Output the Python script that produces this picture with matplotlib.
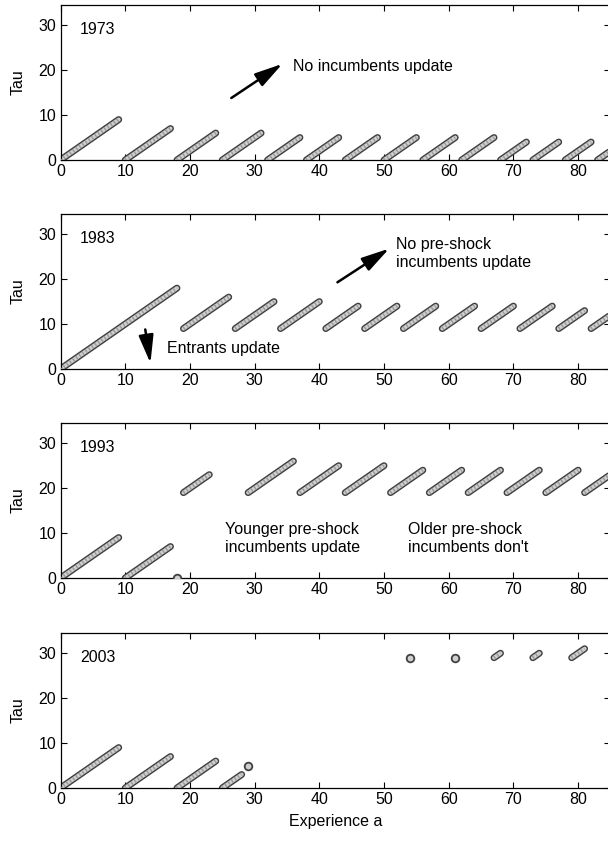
"""Four-panel diagram of tau against experience for several years."""

import matplotlib
matplotlib.use('Agg')
import matplotlib.pyplot as plt

# segments as (a_start, tau_start, a_end, tau_end); equal ends mean a single point
YEARS = [1973, 1983, 1993, 2003]

SEGMENTS_1973 = [
    (0, 0, 9, 9), (10, 0, 17, 7), (18, 0, 24, 6), (25, 0, 31, 6),
    (32, 0, 37, 5), (38, 0, 43, 5), (44, 0, 49, 5), (50, 0, 55, 5),
    (56, 0, 61, 5), (62, 0, 67, 5), (68, 0, 72, 4), (73, 0, 77, 4),
    (78, 0, 82, 4), (83, 0, 87, 4),
]
SEGMENTS_1983 = [
    (0, 0, 18, 18), (19, 9, 26, 16), (27, 9, 33, 15), (34, 9, 40, 15),
    (41, 9, 46, 14), (47, 9, 52, 14), (53, 9, 58, 14), (59, 9, 64, 14),
    (65, 9, 70, 14), (71, 9, 76, 14), (77, 9, 81, 13), (82, 9, 86, 13),
]
SEGMENTS_1993 = [
    (0, 0, 9, 9), (10, 0, 17, 7), (18, 0, 18, 0), (19, 19, 23, 23),
    (29, 19, 36, 26), (37, 19, 43, 25), (44, 19, 50, 25), (51, 19, 56, 24),
    (57, 19, 62, 24), (63, 19, 68, 24), (69, 19, 74, 24), (75, 19, 80, 24),
    (81, 19, 86, 24),
]
SEGMENTS_2003 = [
    (0, 0, 9, 9), (10, 0, 17, 7), (18, 0, 24, 6), (25, 0, 28, 3),
    (29, 5, 29, 5), (54, 29, 54, 29), (61, 29, 61, 29), (67, 29, 68, 30),
    (73, 29, 74, 30), (79, 29, 81, 31),
]

# text notes: (panel index, a, tau, text)
NOTES = [
    (0, 36, 20.8, 'No incumbents update'),
    (1, 51.9, 25.6, 'No pre-shock\nincumbents update'),
    (1, 16.5, 4.6, 'Entrants update'),
    (2, 25.4, 8.7, 'Younger pre-shock\nincumbents update'),
    (2, 53.7, 8.7, 'Older pre-shock\nincumbents don\'t'),
]
# arrows: (panel index, tail a, tail tau, tip a, tip tau)
ARROWS = [
    (0, 26.4, 13.8, 34.3, 21.4),
    (1, 42.8, 19.3, 50.8, 26.8),
    (1, 13.1, 8.8, 13.9, 1.3),
]

XTICKS = [0, 10, 20, 30, 40, 50, 60, 70, 80]
YTICKS = [0, 10, 20, 30]
XLIM = (0, 85)
YLIM = (0, 34.5)

FIG_W, FIG_H = 608, 844
AX_LEFT, AX_WIDTH, AX_HEIGHT = 60.5, 550, 155
AX_BOTTOMS = [160, 369, 578, 788]   # pixel rows of the x axes, from the top

EDGE = '#404040'
FILL = '#cfcfcf'
STRIPE = '#9a9a9a'
FONT = ['Liberation Sans', 'DejaVu Sans']
FONTSIZE = 11.5


def draw_segments(ax, segments):
    """Draw the diagonal bars and single points of one panel."""
    for a0, t0, a1, t1 in segments:
        if (a0, t0) == (a1, t1):
            ax.plot([a0], [t0], marker='o', ms=5.5, mec=EDGE, mfc=FILL,
                    mew=1.3, zorder=3)
        else:
            ax.plot([a0, a1], [t0, t1], color=EDGE, lw=5.0,
                    solid_capstyle='round', zorder=2)
            ax.plot([a0, a1], [t0, t1], color=FILL, lw=2.9,
                    solid_capstyle='round', zorder=2.5)
            # faint hatching inside the bar
            ax.plot([a0, a1], [t0, t1], color=STRIPE, lw=2.9,
                    dashes=(0.35, 0.6), dash_capstyle='butt', zorder=2.6)


def style_axes(ax, show_xlabel):
    """MATLAB-like box with inward ticks."""
    ax.set_xlim(*XLIM)
    ax.set_ylim(*YLIM)
    ax.set_xticks(XTICKS)
    ax.set_yticks(YTICKS)
    ax.tick_params(direction='in', top=True, right=True, length=4,
                   width=0.8, labelsize=FONTSIZE, pad=3)
    for label in ax.get_xticklabels() + ax.get_yticklabels():
        label.set_family(FONT)
    for spine in ax.spines.values():
        spine.set_linewidth(0.9)
    ax.set_ylabel('Tau', family=FONT, fontsize=FONTSIZE)
    ax.yaxis.set_label_coords(-0.064, 0.5)
    if show_xlabel:
        ax.set_xlabel('Experience a', family=FONT, fontsize=FONTSIZE)
        ax.xaxis.set_label_coords(0.5, -0.165)


def main():
    """Build the four panels."""
    fig = plt.figure(figsize=(FIG_W / 100, FIG_H / 100), dpi=100)
    all_segments = [SEGMENTS_1973, SEGMENTS_1983, SEGMENTS_1993, SEGMENTS_2003]
    axes = []
    for i, (year, segs) in enumerate(zip(YEARS, all_segments)):
        bottom = (FIG_H - AX_BOTTOMS[i]) / FIG_H
        ax = fig.add_axes([AX_LEFT / FIG_W, bottom,
                           AX_WIDTH / FIG_W, AX_HEIGHT / FIG_H])
        draw_segments(ax, segs)
        ax.text(3, 29, str(year), ha='left', va='center',
                family=FONT, fontsize=FONTSIZE)
        style_axes(ax, i == len(YEARS) - 1)
        axes.append(ax)

    for panel, a, tau, text in NOTES:
        axes[panel].text(a, tau, text, ha='left', va='center', family=FONT,
                         fontsize=FONTSIZE, linespacing=1.25)

    for panel, a0, t0, a1, t1 in ARROWS:
        axes[panel].annotate(
            '', xy=(a1, t1), xytext=(a0, t0),
            arrowprops=dict(arrowstyle='-|>,head_length=1.7,head_width=0.45',
                            mutation_scale=10, lw=1.8, color='k',
                            shrinkA=0, shrinkB=0),
        )

    fig.savefig('out.png', dpi=100)
    plt.close()


if __name__ == '__main__':
    main()
